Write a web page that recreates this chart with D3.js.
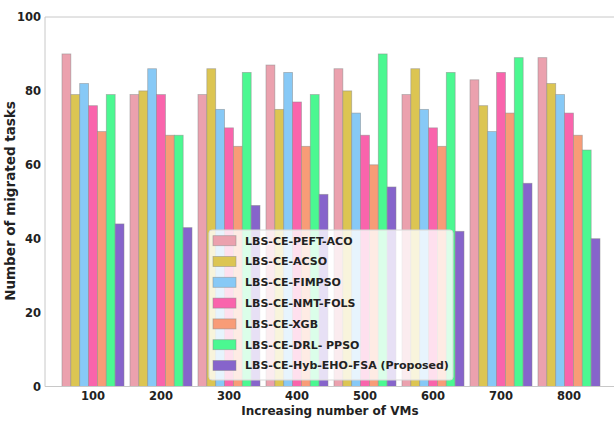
<!DOCTYPE html>
<html>
<head>
<meta charset="utf-8">
<script src="https://cdn.jsdelivr.net/npm/d3@7"></script>
<style>
  body { margin: 0; background: #fff; }
  text { font-family: "DejaVu Sans", sans-serif; font-weight: bold; fill: #222; }
</style>
</head>
<body>
<script>
// chart data
let vms = ['100', '200', '300', '400', '500', '600', '700', '800']
let methods = [
  'LBS-CE-PEFT-ACO',
  'LBS-CE-ACSO',
  'LBS-CE-FIMPSO',
  'LBS-CE-NMT-FOLS',
  'LBS-CE-XGB',
  'LBS-CE-DRL- PPSO',
  'LBS-CE-Hyb-EHO-FSA (Proposed)'
]
let peftAco = [90, 79, 79, 87, 86, 79, 83, 89]
let acso = [79, 80, 86, 75, 80, 86, 76, 82]
let fimpso = [82, 86, 75, 85, 74, 75, 69, 79]
let nmtFols = [76, 79, 70, 77, 68, 70, 85, 74]
let xgb = [69, 68, 65, 65, 60, 65, 74, 68]
let drlPpso = [79, 68, 85, 79, 90, 85, 89, 64]
let hybEhoFsa = [44, 43, 49, 52, 54, 42, 55, 40]
let yTicks = [0, 20, 40, 60, 80, 100]

let series = [peftAco, acso, fimpso, nmtFols, xgb, drlPpso, hybEhoFsa]
let colors = ['#eba1ae', '#dcc552', '#87c9f6', '#f964ac', '#f89c77', '#4bf891', '#8664cb']

// layout
let m = { width: 614, height: 421, left: 45, right: 614, top: 17, bottom: 386.5 }

let svg = d3.select('body')
  .append('svg')
  .attr('width', m.width)
  .attr('height', m.height)

let x = d3.scaleBand()
  .domain(vms)
  .range([59, 603])
  .paddingInner(0.088)
  .paddingOuter(0.044)

let xInner = d3.scaleBand()
  .domain(d3.range(methods.length))
  .range([0, x.bandwidth()])

let y = d3.scaleLinear()
  .domain([0, 100])
  .range([m.bottom, m.top])

// bars
series.forEach(function(vals, j) {
  svg.append('g')
    .selectAll('rect')
    .data(vals)
    .enter()
    .append('rect')
      .attr('x', function(d, i) { return x(vms[i]) + xInner(j) })
      .attr('y', function(d) { return y(d) })
      .attr('width', xInner.bandwidth())
      .attr('height', function(d) { return y(0) - y(d) })
      .attr('fill', colors[j])
      .attr('stroke', '#8a8a8a')
      .attr('stroke-opacity', 0.6)
      .attr('stroke-width', 0.8)
})

// frame (left, top, bottom)
svg.append('path')
  .attr('d', 'M' + m.right + ',' + m.top + 'H' + m.left + 'V' + m.bottom + 'H' + m.right)
  .attr('fill', 'none')
  .attr('stroke', '#c8c8c8')
  .attr('stroke-width', 1)

// y axis
let yAxis = svg.append('g')
  .attr('transform', 'translate(' + m.left + ',0)')
  .call(d3.axisLeft(y).tickValues(yTicks).tickSize(0).tickPadding(4))
yAxis.select('.domain').remove()
yAxis.selectAll('text').style('font-size', '11.5px').attr('fill', '#222')

// x axis
let xAxis = svg.append('g')
  .attr('transform', 'translate(0,' + m.bottom + ')')
  .call(d3.axisBottom(x).tickSize(0).tickPadding(5))
xAxis.select('.domain').remove()
xAxis.selectAll('text').style('font-size', '11.5px').attr('fill', '#222')

// axis titles
svg.append('text')
  .attr('x', 330)
  .attr('y', 415)
  .attr('text-anchor', 'middle')
  .style('font-size', '12px')
  .text('Increasing number of VMs')

svg.append('text')
  .attr('transform', 'translate(15,201) rotate(-90)')
  .attr('text-anchor', 'middle')
  .style('font-size', '13.5px')
  .text('Number of migrated tasks')

// legend
let lg = svg.append('g').attr('transform', 'translate(209,230)')
lg.append('rect')
  .attr('width', 244)
  .attr('height', 150)
  .attr('rx', 3)
  .attr('fill', '#fff')
  .attr('fill-opacity', 0.8)
  .attr('stroke', '#d8d8d8')

let items = lg.selectAll('g.item')
  .data(methods)
  .enter()
  .append('g')
    .attr('class', 'item')
    .attr('transform', function(d, i) { return 'translate(4,' + (10.7 + i * 20.8) + ')' })

items.append('rect')
  .attr('y', -5)
  .attr('width', 23)
  .attr('height', 10)
  .attr('fill', function(d, i) { return colors[i] })
  .attr('stroke', '#8a8a8a')
  .attr('stroke-opacity', 0.6)
  .attr('stroke-width', 0.8)

items.append('text')
  .attr('x', 32)
  .attr('dy', '0.35em')
  .style('font-size', '11px')
  .text(function(d) { return d })
</script>
</body>
</html>
